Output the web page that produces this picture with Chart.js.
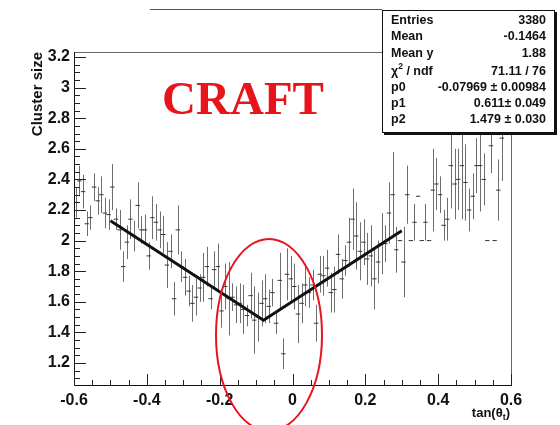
<!DOCTYPE html>
<html>
<head>
<meta charset="utf-8">
<script src="https://cdn.jsdelivr.net/npm/chart.js@4.4.1/dist/chart.umd.min.js"></script>
<style>
html,body{margin:0;padding:0;background:#fff;}
canvas{display:block;}
</style>
</head>
<body>
<canvas id="c" width="560" height="425"></canvas>
<script>
// Profile histogram binning
const nBins = 120;
const xLow = -0.6;
const xHigh = 0.6;

// Mean cluster size per tan(theta_t) bin
const clusterSize = [
  2.25,2.39,2.32,2.11,2.15,2.35,2.26,2.30,2.18,2.17,
  2.35,2.14,2.07,1.83,1.99,2.14,2.03,2.23,2.07,2.07,
  1.90,2.15,2.12,2.07,2.04,1.84,1.93,1.62,2.07,1.83,
  1.76,1.67,1.59,1.63,1.69,1.76,1.83,1.62,1.81,1.83,
  1.54,1.70,1.62,1.63,1.58,1.59,1.55,1.51,1.64,1.48,
  1.50,1.59,1.62,1.57,1.66,1.46,1.74,1.26,1.78,1.75,
  1.70,1.52,1.59,1.71,1.66,1.71,1.46,1.78,1.77,1.82,
  1.66,1.68,1.91,1.75,1.87,1.99,2.14,2.03,1.93,1.99,
  1.88,1.90,1.75,1.86,1.98,1.98,2.18,2.30,1.94,2.00,
  1.86,2.30,2.00,2.12,2.29,2.00,2.12,2.00,2.33,2.37,
  2.30,2.10,2.14,2.49,2.37,2.40,2.49,2.38,2.20,2.29,
  2.49,2.49,2.40,2.00,2.62,2.00,2.33,2.67,null,null
];

// Error on the mean per bin (0 = single entry)
const clusterErr = [
  0.10,0.10,0.11,0.08,0.08,0.09,0.09,0.12,0.10,0.10,
  0.15,0.07,0.13,0.10,0.11,0.13,0.10,0.15,0.09,0.10,
  0.09,0.14,0.12,0.12,0.12,0.15,0.11,0.11,0.16,0.10,
  0.12,0.10,0.12,0.12,0.09,0.16,0.13,0.07,0.12,0.15,
  0.11,0.15,0.24,0.09,0.12,0.13,0.16,0.07,0.15,0.22,
  0.16,0.15,0.16,0.11,0.09,0.07,0.18,0.10,0.17,0.15,
  0.15,0.19,0.13,0.14,0.10,0.10,0.12,0.12,0.13,0.12,
  0.13,0.15,0.13,0.13,0.10,0.16,0.20,0.22,0.19,0.15,
  0.17,0.20,0.20,0.14,0.20,0.12,0.20,0.28,0.15,0,
  0.23,0.19,0,0.12,0,0,0.12,0,0.27,0.17,
  0.12,0.10,0.14,0.28,0.23,0.20,0.35,0.25,0.14,0.15,
  0.18,0.30,0.17,0,0.18,0,0.20,0.28,0,0
];

// V-shaped fit: vertex at (p0, p2)
const fitX = [-0.5, -0.07969, 0.3];
const fitY = [2.13, 1.479, 2.065];

const xTicks = [-0.6, -0.4, -0.2, 0, 0.2, 0.4, 0.6];
const yTicks = [1.2, 1.4, 1.6, 1.8, 2, 2.2, 2.4, 2.6, 2.8, 3, 3.2];

const statLabels = ['Entries', 'Mean', 'Mean y', 'CHI', 'p0', 'p1', 'p2'];
const statValues = ['3380', '-0.1464', '1.88', '71.11 / 76', '-0.07969 \u00b1 0.00984', '0.611\u00b1 0.049', '1.479 \u00b1 0.030'];

const binWidth = (xHigh - xLow) / nBins;
const binCenters = clusterSize.map((_, i) => xLow + (i + 0.5) * binWidth);

const fmt = v => String(+v.toFixed(2));
const SANS = '"Liberation Sans", Arial, sans-serif';
const RED = '#e8141c';

const errorBars = {
  id: 'errorBars',
  beforeDatasetsDraw(chart) {
    const { ctx, chartArea: a, scales: { x, y } } = chart;
    ctx.save();
    ctx.beginPath();
    ctx.rect(a.left, a.top, a.right - a.left, a.bottom - a.top);
    ctx.clip();
    ctx.strokeStyle = '#6e6e6e';
    ctx.lineWidth = 1;
    binCenters.forEach((cx, i) => {
      const v = clusterSize[i], e = clusterErr[i];
      if (v == null || !e) return;
      const px = Math.round(x.getPixelForValue(cx)) + 0.5;
      ctx.beginPath();
      ctx.moveTo(px, y.getPixelForValue(v - e));
      ctx.lineTo(px, y.getPixelForValue(v + e));
      ctx.stroke();
    });
    ctx.restore();
  }
};

const decorations = {
  id: 'decorations',
  afterDraw(chart) {
    const { ctx, chartArea: a, scales: { x, y } } = chart;
    ctx.save();

    // frame
    ctx.lineWidth = 1;
    ctx.strokeStyle = '#666';
    ctx.beginPath();
    ctx.moveTo(a.left, a.top + 0.5); ctx.lineTo(a.right, a.top + 0.5);
    ctx.moveTo(a.right + 0.5, a.top); ctx.lineTo(a.right + 0.5, a.bottom);
    ctx.stroke();
    ctx.strokeStyle = '#111';
    ctx.beginPath();
    ctx.moveTo(a.left + 0.5, a.top); ctx.lineTo(a.left + 0.5, a.bottom + 0.5);
    ctx.lineTo(a.right + 1, a.bottom + 0.5);
    ctx.stroke();

    // tick marks pointing into the frame
    ctx.strokeStyle = '#222';
    ctx.beginPath();
    for (let k = 0; k <= 60; k++) {
      const v = 0.2 + k * 0.05;
      if (v < y.min || v > y.max) continue;
      const major = Math.round(v * 100) % 20 === 0;
      const py = Math.round(y.getPixelForValue(v)) + 0.5;
      ctx.moveTo(a.left, py);
      ctx.lineTo(a.left + (major ? 12 : 6), py);
    }
    for (let k = 0; k <= 24; k++) {
      const v = xLow + k * 0.05;
      const major = k % 4 === 0;
      const px = Math.round(x.getPixelForValue(v)) + 0.5;
      ctx.moveTo(px, a.bottom);
      ctx.lineTo(px, a.bottom - (major ? 11 : 5));
    }
    ctx.stroke();

    // axis titles
    ctx.fillStyle = '#111';
    ctx.save();
    ctx.translate(42, a.top);
    ctx.rotate(-Math.PI / 2);
    ctx.font = 'bold 15px ' + SANS;
    ctx.textAlign = 'right';
    ctx.textBaseline = 'alphabetic';
    ctx.fillText('Cluster size', 0, 0);
    ctx.restore();

    ctx.textBaseline = 'alphabetic';
    ctx.textAlign = 'left';
    const fBig = 'bold 13px ' + SANS, fSub = 'bold 9px ' + SANS;
    ctx.font = fBig; const w1 = ctx.measureText('tan(\u03b8').width; const w3 = ctx.measureText(')').width;
    ctx.font = fSub; const w2 = ctx.measureText('t').width;
    let tx = 510 - (w1 + w2 + w3);
    ctx.font = fBig; ctx.fillText('tan(\u03b8', tx, 417); tx += w1;
    ctx.font = fSub; ctx.fillText('t', tx, 420); tx += w2;
    ctx.font = fBig; ctx.fillText(')', tx, 417);

    // CRAFT label
    ctx.fillStyle = RED;
    ctx.font = 'bold 47px "Liberation Serif", "Times New Roman", serif';
    ctx.textAlign = 'center';
    ctx.fillText('CRAFT', 243, 114);

    // highlighted region
    ctx.strokeStyle = RED;
    ctx.lineWidth = 2;
    ctx.beginPath();
    ctx.ellipse(269, 335, 53, 96, 0, 0, Math.PI * 2);
    ctx.stroke();

    // top border line
    ctx.strokeStyle = '#555';
    ctx.lineWidth = 1;
    ctx.beginPath();
    ctx.moveTo(150, 9.5); ctx.lineTo(382, 9.5);
    ctx.stroke();

    // statistics box
    const bx = 382, by = 10, bw = 172, bh = 122;
    ctx.fillStyle = '#111';
    ctx.fillRect(bx + 2, by + 2, bw + 1, bh + 1);
    ctx.fillStyle = '#fff';
    ctx.fillRect(bx, by, bw, bh);
    ctx.strokeStyle = '#111';
    ctx.strokeRect(bx + 0.5, by + 0.5, bw, bh);

    const rows = [21, 37, 54, 72, 88, 104, 120];
    const fStat = 'bold 12.5px ' + SANS;
    ctx.fillStyle = '#111';
    ctx.textBaseline = 'middle';
    rows.forEach((ry, i) => {
      ctx.textAlign = 'left';
      if (statLabels[i] === 'CHI') {
        ctx.font = fStat;
        ctx.fillText('\u03c7', 391, ry);
        const cw = ctx.measureText('\u03c7').width;
        ctx.font = 'bold 8.5px ' + SANS;
        ctx.fillText('2', 391 + cw, ry - 5);
        const sw = ctx.measureText('2').width;
        ctx.font = fStat;
        ctx.fillText(' / ndf', 391 + cw + sw, ry);
      } else {
        ctx.font = fStat;
        ctx.fillText(statLabels[i], 391, ry);
      }
      ctx.font = fStat;
      ctx.textAlign = 'right';
      ctx.fillText(statValues[i], 546, ry);
    });

    ctx.restore();
  }
};

new Chart(document.getElementById('c'), {
  data: {
    datasets: [
      {
        type: 'line',
        data: fitX.map((v, i) => ({ x: v, y: fitY[i] })),
        borderColor: '#111',
        borderWidth: 3,
        pointRadius: 0,
        tension: 0,
        fill: false
      },
      {
        type: 'scatter',
        data: binCenters.map((v, i) => ({ x: v, y: clusterSize[i] })).filter(p => p.y != null),
        pointStyle: 'line',
        pointRadius: 2.2,
        borderWidth: 1,
        borderColor: '#333',
        backgroundColor: '#333'
      }
    ]
  },
  options: {
    responsive: false,
    animation: false,
    events: [],
    layout: { padding: { left: 0, right: 49, top: 52, bottom: 0 } },
    plugins: { legend: { display: false }, tooltip: { enabled: false } },
    scales: {
      x: {
        type: 'linear',
        min: xLow,
        max: xHigh,
        afterBuildTicks: s => { s.ticks = xTicks.map(v => ({ value: v })); },
        afterFit: s => { s.height = 40; },
        grid: { display: false, drawTicks: false },
        border: { display: false },
        ticks: {
          padding: 6,
          maxRotation: 0,
          autoSkip: false,
          color: '#111',
          font: { family: SANS, size: 16, weight: 'bold' },
          callback: v => fmt(v)
        }
      },
      y: {
        type: 'linear',
        min: 1.056,
        max: 3.233,
        afterBuildTicks: s => { s.ticks = yTicks.map(v => ({ value: v })); },
        afterFit: s => { s.width = 74; },
        grid: { display: false, drawTicks: false },
        border: { display: false },
        ticks: {
          padding: 4,
          autoSkip: false,
          color: '#111',
          font: { family: SANS, size: 16, weight: 'bold' },
          callback: v => fmt(v)
        }
      }
    }
  },
  plugins: [errorBars, decorations]
});
</script>
</body>
</html>
